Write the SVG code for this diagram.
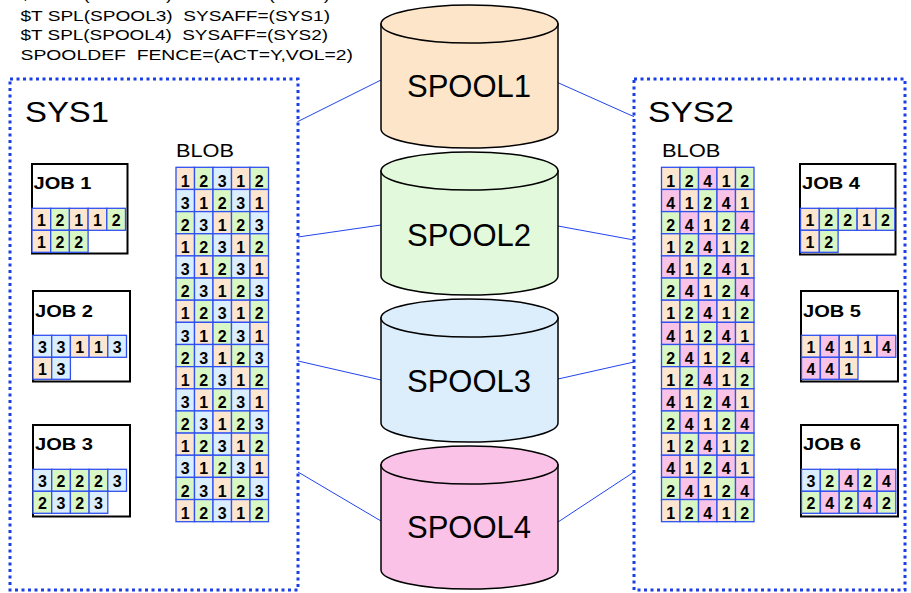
<svg xmlns="http://www.w3.org/2000/svg" xmlns:xlink="http://www.w3.org/1999/xlink" width="911" height="593" viewBox="0 0 911 593">
<style>
.hdr{font-family:"Liberation Sans",Arial,sans-serif;font-size:15px;fill:#000}
.sys{font-family:"Liberation Sans",Arial,sans-serif;font-size:30px;fill:#000}
.blob{font-family:"Liberation Sans",Arial,sans-serif;font-size:19px;fill:#000}
.spl{font-family:"Liberation Sans",Arial,sans-serif;font-size:31px;fill:#000;text-anchor:middle}
.jl{font-family:"Liberation Sans",Arial,sans-serif;font-size:16px;font-weight:bold;fill:#000}
.d{font-family:"Liberation Sans",Arial,sans-serif;font-size:16px;font-weight:bold;fill:#000;text-anchor:middle}
.box{fill:none;stroke:#1b3ee6;stroke-width:3;stroke-dasharray:3 3.5}
.job{fill:#fff;stroke:#000;stroke-width:2}
.cyl{stroke:#000;stroke-width:1.5}
.con{stroke:#2244ee;stroke-width:1;fill:none}
.c{stroke:#3050f0;stroke-width:1.3}
.f1{fill:#fde6cf}.f2{fill:#d9f7c4}.f3{fill:#dbeefd}.f4{fill:#f8c3e6}
</style>
<defs>
<rect id="b" width="18.5" height="22.15"/>
<rect id="j" width="18.7" height="22"/>
</defs>

<g id="header">
<text class="hdr" x="20" y="-0.5" xml:space="preserve" textLength="310" lengthAdjust="spacingAndGlyphs">$T SPL(SPOOL2)  SYSAFF=(SYS1)</text>
<text class="hdr" x="20.5" y="20.7" xml:space="preserve" textLength="309.5" lengthAdjust="spacingAndGlyphs">$T SPL(SPOOL3)  SYSAFF=(SYS1)</text>
<text class="hdr" x="20.5" y="40.2" xml:space="preserve" textLength="307.5" lengthAdjust="spacingAndGlyphs">$T SPL(SPOOL4)  SYSAFF=(SYS2)</text>
<text class="hdr" x="20.5" y="59.6" xml:space="preserve" textLength="332.5" lengthAdjust="spacingAndGlyphs">SPOOLDEF  FENCE=(ACT=Y,VOL=2)</text>
</g>

<g id="connectors">
<line class="con" x1="297.5" y1="121.7" x2="381" y2="80"/>
<line class="con" x1="558" y1="82.7" x2="634" y2="116.7"/>
<line class="con" x1="298" y1="237" x2="381" y2="225"/>
<line class="con" x1="558" y1="226" x2="634" y2="240"/>
<line class="con" x1="298" y1="361" x2="381" y2="380"/>
<line class="con" x1="558" y1="379" x2="634" y2="362"/>
<line class="con" x1="298" y1="472" x2="381" y2="521"/>
<line class="con" x1="558" y1="522" x2="634" y2="472"/>
</g>

<g id="sys1">
<rect class="box" x="10" y="79" width="288" height="511"/>
<text class="sys" x="25" y="122" textLength="84" lengthAdjust="spacingAndGlyphs">SYS1</text>
</g>
<g id="sys2">
<rect class="box" x="634" y="79" width="271" height="511"/>
<text class="sys" x="648" y="122" textLength="86" lengthAdjust="spacingAndGlyphs">SYS2</text>
</g>

<g id="spool1">
<path class="cyl" fill="#fce5c8" d="M381 24 V129 A88.5 19 0 0 0 558 129 V24 Z"/>
<ellipse class="cyl" fill="#fce5c8" cx="469.5" cy="24" rx="88.5" ry="19"/>
<text class="spl" x="469" y="96.7">SPOOL1</text>
</g>
<g id="spool2">
<path class="cyl" fill="#e2fadb" d="M381 171 V276 A88.5 19 0 0 0 558 276 V171 Z"/>
<ellipse class="cyl" fill="#e2fadb" cx="469.5" cy="171" rx="88.5" ry="19"/>
<text class="spl" x="469" y="246">SPOOL2</text>
</g>
<g id="spool3">
<path class="cyl" fill="#dcedfc" d="M381 318 V423 A88.5 19 0 0 0 558 423 V318 Z"/>
<ellipse class="cyl" fill="#dcedfc" cx="469.5" cy="318" rx="88.5" ry="19"/>
<text class="spl" x="469" y="392">SPOOL3</text>
</g>
<g id="spool4">
<path class="cyl" fill="#f9c2e6" d="M381 465 V570 A88.5 19 0 0 0 558 570 V465 Z"/>
<ellipse class="cyl" fill="#f9c2e6" cx="469.5" cy="465" rx="88.5" ry="19"/>
<text class="spl" x="469" y="538">SPOOL4</text>
</g>

<g id="blob1">
<text class="blob" x="176" y="156.7" textLength="58" lengthAdjust="spacingAndGlyphs">BLOB</text>
<g class="c">
<use href="#b" class="f1" x="176" y="167.3"/><use href="#b" class="f2" x="194.5" y="167.3"/><use href="#b" class="f3" x="213" y="167.3"/><use href="#b" class="f1" x="231.5" y="167.3"/><use href="#b" class="f2" x="250" y="167.3"/>
<use href="#b" class="f3" x="176" y="189.45"/><use href="#b" class="f1" x="194.5" y="189.45"/><use href="#b" class="f2" x="213" y="189.45"/><use href="#b" class="f3" x="231.5" y="189.45"/><use href="#b" class="f1" x="250" y="189.45"/>
<use href="#b" class="f2" x="176" y="211.6"/><use href="#b" class="f3" x="194.5" y="211.6"/><use href="#b" class="f1" x="213" y="211.6"/><use href="#b" class="f2" x="231.5" y="211.6"/><use href="#b" class="f3" x="250" y="211.6"/>
<use href="#b" class="f1" x="176" y="233.75"/><use href="#b" class="f2" x="194.5" y="233.75"/><use href="#b" class="f3" x="213" y="233.75"/><use href="#b" class="f1" x="231.5" y="233.75"/><use href="#b" class="f2" x="250" y="233.75"/>
<use href="#b" class="f3" x="176" y="255.9"/><use href="#b" class="f1" x="194.5" y="255.9"/><use href="#b" class="f2" x="213" y="255.9"/><use href="#b" class="f3" x="231.5" y="255.9"/><use href="#b" class="f1" x="250" y="255.9"/>
<use href="#b" class="f2" x="176" y="278.05"/><use href="#b" class="f3" x="194.5" y="278.05"/><use href="#b" class="f1" x="213" y="278.05"/><use href="#b" class="f2" x="231.5" y="278.05"/><use href="#b" class="f3" x="250" y="278.05"/>
<use href="#b" class="f1" x="176" y="300.2"/><use href="#b" class="f2" x="194.5" y="300.2"/><use href="#b" class="f3" x="213" y="300.2"/><use href="#b" class="f1" x="231.5" y="300.2"/><use href="#b" class="f2" x="250" y="300.2"/>
<use href="#b" class="f3" x="176" y="322.35"/><use href="#b" class="f1" x="194.5" y="322.35"/><use href="#b" class="f2" x="213" y="322.35"/><use href="#b" class="f3" x="231.5" y="322.35"/><use href="#b" class="f1" x="250" y="322.35"/>
<use href="#b" class="f2" x="176" y="344.5"/><use href="#b" class="f3" x="194.5" y="344.5"/><use href="#b" class="f1" x="213" y="344.5"/><use href="#b" class="f2" x="231.5" y="344.5"/><use href="#b" class="f3" x="250" y="344.5"/>
<use href="#b" class="f1" x="176" y="366.65"/><use href="#b" class="f2" x="194.5" y="366.65"/><use href="#b" class="f3" x="213" y="366.65"/><use href="#b" class="f1" x="231.5" y="366.65"/><use href="#b" class="f2" x="250" y="366.65"/>
<use href="#b" class="f3" x="176" y="388.8"/><use href="#b" class="f1" x="194.5" y="388.8"/><use href="#b" class="f2" x="213" y="388.8"/><use href="#b" class="f3" x="231.5" y="388.8"/><use href="#b" class="f1" x="250" y="388.8"/>
<use href="#b" class="f2" x="176" y="410.95"/><use href="#b" class="f3" x="194.5" y="410.95"/><use href="#b" class="f1" x="213" y="410.95"/><use href="#b" class="f2" x="231.5" y="410.95"/><use href="#b" class="f3" x="250" y="410.95"/>
<use href="#b" class="f1" x="176" y="433.1"/><use href="#b" class="f2" x="194.5" y="433.1"/><use href="#b" class="f3" x="213" y="433.1"/><use href="#b" class="f1" x="231.5" y="433.1"/><use href="#b" class="f2" x="250" y="433.1"/>
<use href="#b" class="f3" x="176" y="455.25"/><use href="#b" class="f1" x="194.5" y="455.25"/><use href="#b" class="f2" x="213" y="455.25"/><use href="#b" class="f3" x="231.5" y="455.25"/><use href="#b" class="f1" x="250" y="455.25"/>
<use href="#b" class="f2" x="176" y="477.4"/><use href="#b" class="f3" x="194.5" y="477.4"/><use href="#b" class="f1" x="213" y="477.4"/><use href="#b" class="f2" x="231.5" y="477.4"/><use href="#b" class="f3" x="250" y="477.4"/>
<use href="#b" class="f1" x="176" y="499.55"/><use href="#b" class="f2" x="194.5" y="499.55"/><use href="#b" class="f3" x="213" y="499.55"/><use href="#b" class="f1" x="231.5" y="499.55"/><use href="#b" class="f2" x="250" y="499.55"/>
</g>
<text class="d" x="185.25 203.75 222.25 240.75 259.25" y="186.5">12312</text>
<text class="d" x="185.25 203.75 222.25 240.75 259.25" y="208.65">31231</text>
<text class="d" x="185.25 203.75 222.25 240.75 259.25" y="230.8">23123</text>
<text class="d" x="185.25 203.75 222.25 240.75 259.25" y="252.95">12312</text>
<text class="d" x="185.25 203.75 222.25 240.75 259.25" y="275.1">31231</text>
<text class="d" x="185.25 203.75 222.25 240.75 259.25" y="297.25">23123</text>
<text class="d" x="185.25 203.75 222.25 240.75 259.25" y="319.4">12312</text>
<text class="d" x="185.25 203.75 222.25 240.75 259.25" y="341.55">31231</text>
<text class="d" x="185.25 203.75 222.25 240.75 259.25" y="363.7">23123</text>
<text class="d" x="185.25 203.75 222.25 240.75 259.25" y="385.85">12312</text>
<text class="d" x="185.25 203.75 222.25 240.75 259.25" y="408">31231</text>
<text class="d" x="185.25 203.75 222.25 240.75 259.25" y="430.15">23123</text>
<text class="d" x="185.25 203.75 222.25 240.75 259.25" y="452.3">12312</text>
<text class="d" x="185.25 203.75 222.25 240.75 259.25" y="474.45">31231</text>
<text class="d" x="185.25 203.75 222.25 240.75 259.25" y="496.6">23123</text>
<text class="d" x="185.25 203.75 222.25 240.75 259.25" y="518.75">12312</text>
</g>

<g id="blob2">
<text class="blob" x="662" y="156.7" textLength="58.5" lengthAdjust="spacingAndGlyphs">BLOB</text>
<g class="c">
<use href="#b" class="f1" x="661.5" y="167.3"/><use href="#b" class="f2" x="680" y="167.3"/><use href="#b" class="f4" x="698.5" y="167.3"/><use href="#b" class="f1" x="717" y="167.3"/><use href="#b" class="f2" x="735.5" y="167.3"/>
<use href="#b" class="f4" x="661.5" y="189.45"/><use href="#b" class="f1" x="680" y="189.45"/><use href="#b" class="f2" x="698.5" y="189.45"/><use href="#b" class="f4" x="717" y="189.45"/><use href="#b" class="f1" x="735.5" y="189.45"/>
<use href="#b" class="f2" x="661.5" y="211.6"/><use href="#b" class="f4" x="680" y="211.6"/><use href="#b" class="f1" x="698.5" y="211.6"/><use href="#b" class="f2" x="717" y="211.6"/><use href="#b" class="f4" x="735.5" y="211.6"/>
<use href="#b" class="f1" x="661.5" y="233.75"/><use href="#b" class="f2" x="680" y="233.75"/><use href="#b" class="f4" x="698.5" y="233.75"/><use href="#b" class="f1" x="717" y="233.75"/><use href="#b" class="f2" x="735.5" y="233.75"/>
<use href="#b" class="f4" x="661.5" y="255.9"/><use href="#b" class="f1" x="680" y="255.9"/><use href="#b" class="f2" x="698.5" y="255.9"/><use href="#b" class="f4" x="717" y="255.9"/><use href="#b" class="f1" x="735.5" y="255.9"/>
<use href="#b" class="f2" x="661.5" y="278.05"/><use href="#b" class="f4" x="680" y="278.05"/><use href="#b" class="f1" x="698.5" y="278.05"/><use href="#b" class="f2" x="717" y="278.05"/><use href="#b" class="f4" x="735.5" y="278.05"/>
<use href="#b" class="f1" x="661.5" y="300.2"/><use href="#b" class="f2" x="680" y="300.2"/><use href="#b" class="f4" x="698.5" y="300.2"/><use href="#b" class="f1" x="717" y="300.2"/><use href="#b" class="f2" x="735.5" y="300.2"/>
<use href="#b" class="f4" x="661.5" y="322.35"/><use href="#b" class="f1" x="680" y="322.35"/><use href="#b" class="f2" x="698.5" y="322.35"/><use href="#b" class="f4" x="717" y="322.35"/><use href="#b" class="f1" x="735.5" y="322.35"/>
<use href="#b" class="f2" x="661.5" y="344.5"/><use href="#b" class="f4" x="680" y="344.5"/><use href="#b" class="f1" x="698.5" y="344.5"/><use href="#b" class="f2" x="717" y="344.5"/><use href="#b" class="f4" x="735.5" y="344.5"/>
<use href="#b" class="f1" x="661.5" y="366.65"/><use href="#b" class="f2" x="680" y="366.65"/><use href="#b" class="f4" x="698.5" y="366.65"/><use href="#b" class="f1" x="717" y="366.65"/><use href="#b" class="f2" x="735.5" y="366.65"/>
<use href="#b" class="f4" x="661.5" y="388.8"/><use href="#b" class="f1" x="680" y="388.8"/><use href="#b" class="f2" x="698.5" y="388.8"/><use href="#b" class="f4" x="717" y="388.8"/><use href="#b" class="f1" x="735.5" y="388.8"/>
<use href="#b" class="f2" x="661.5" y="410.95"/><use href="#b" class="f4" x="680" y="410.95"/><use href="#b" class="f1" x="698.5" y="410.95"/><use href="#b" class="f2" x="717" y="410.95"/><use href="#b" class="f4" x="735.5" y="410.95"/>
<use href="#b" class="f1" x="661.5" y="433.1"/><use href="#b" class="f2" x="680" y="433.1"/><use href="#b" class="f4" x="698.5" y="433.1"/><use href="#b" class="f1" x="717" y="433.1"/><use href="#b" class="f2" x="735.5" y="433.1"/>
<use href="#b" class="f4" x="661.5" y="455.25"/><use href="#b" class="f1" x="680" y="455.25"/><use href="#b" class="f2" x="698.5" y="455.25"/><use href="#b" class="f4" x="717" y="455.25"/><use href="#b" class="f1" x="735.5" y="455.25"/>
<use href="#b" class="f2" x="661.5" y="477.4"/><use href="#b" class="f4" x="680" y="477.4"/><use href="#b" class="f1" x="698.5" y="477.4"/><use href="#b" class="f2" x="717" y="477.4"/><use href="#b" class="f4" x="735.5" y="477.4"/>
<use href="#b" class="f1" x="661.5" y="499.55"/><use href="#b" class="f2" x="680" y="499.55"/><use href="#b" class="f4" x="698.5" y="499.55"/><use href="#b" class="f1" x="717" y="499.55"/><use href="#b" class="f2" x="735.5" y="499.55"/>
</g>
<text class="d" x="670.75 689.25 707.75 726.25 744.75" y="186.5">12412</text>
<text class="d" x="670.75 689.25 707.75 726.25 744.75" y="208.65">41241</text>
<text class="d" x="670.75 689.25 707.75 726.25 744.75" y="230.8">24124</text>
<text class="d" x="670.75 689.25 707.75 726.25 744.75" y="252.95">12412</text>
<text class="d" x="670.75 689.25 707.75 726.25 744.75" y="275.1">41241</text>
<text class="d" x="670.75 689.25 707.75 726.25 744.75" y="297.25">24124</text>
<text class="d" x="670.75 689.25 707.75 726.25 744.75" y="319.4">12412</text>
<text class="d" x="670.75 689.25 707.75 726.25 744.75" y="341.55">41241</text>
<text class="d" x="670.75 689.25 707.75 726.25 744.75" y="363.7">24124</text>
<text class="d" x="670.75 689.25 707.75 726.25 744.75" y="385.85">12412</text>
<text class="d" x="670.75 689.25 707.75 726.25 744.75" y="408">41241</text>
<text class="d" x="670.75 689.25 707.75 726.25 744.75" y="430.15">24124</text>
<text class="d" x="670.75 689.25 707.75 726.25 744.75" y="452.3">12412</text>
<text class="d" x="670.75 689.25 707.75 726.25 744.75" y="474.45">41241</text>
<text class="d" x="670.75 689.25 707.75 726.25 744.75" y="496.6">24124</text>
<text class="d" x="670.75 689.25 707.75 726.25 744.75" y="518.75">12412</text>
</g>

<g id="job1">
<rect class="job" x="32" y="164" width="95.5" height="89.5"/>
<text class="jl" x="33.5" y="189.3" textLength="58" lengthAdjust="spacingAndGlyphs">JOB 1</text>
<g class="c">
<use href="#j" class="f1" x="32" y="208.3"/><use href="#j" class="f2" x="50.7" y="208.3"/><use href="#j" class="f1" x="69.4" y="208.3"/><use href="#j" class="f1" x="88.1" y="208.3"/><use href="#j" class="f2" x="106.8" y="208.3"/>
<use href="#j" class="f1" x="32" y="230.3"/><use href="#j" class="f2" x="50.7" y="230.3"/><use href="#j" class="f2" x="69.4" y="230.3"/>
</g>
<text class="d" x="41.35 60.05 78.75 97.45 116.15" y="225.8">12112</text>
<text class="d" x="41.35 60.05 78.75" y="247.8">122</text>
</g>

<g id="job2">
<rect class="job" x="33" y="291" width="97" height="90.5"/>
<text class="jl" x="35" y="316.7" textLength="58" lengthAdjust="spacingAndGlyphs">JOB 2</text>
<g class="c">
<use href="#j" class="f3" x="33" y="335.3"/><use href="#j" class="f3" x="51.7" y="335.3"/><use href="#j" class="f1" x="70.4" y="335.3"/><use href="#j" class="f1" x="89.1" y="335.3"/><use href="#j" class="f3" x="107.8" y="335.3"/>
<use href="#j" class="f1" x="33" y="357.3"/><use href="#j" class="f3" x="51.7" y="357.3"/>
</g>
<text class="d" x="42.35 61.05 79.75 98.45 117.15" y="352.8">33113</text>
<text class="d" x="42.35 61.05" y="374.8">13</text>
</g>

<g id="job3">
<rect class="job" x="33" y="425" width="97" height="91.5"/>
<text class="jl" x="35" y="450.3" textLength="58" lengthAdjust="spacingAndGlyphs">JOB 3</text>
<g class="c">
<use href="#j" class="f3" x="33" y="469.3"/><use href="#j" class="f2" x="51.7" y="469.3"/><use href="#j" class="f2" x="70.4" y="469.3"/><use href="#j" class="f2" x="89.1" y="469.3"/><use href="#j" class="f3" x="107.8" y="469.3"/>
<use href="#j" class="f2" x="33" y="491.3"/><use href="#j" class="f3" x="51.7" y="491.3"/><use href="#j" class="f2" x="70.4" y="491.3"/><use href="#j" class="f3" x="89.1" y="491.3"/>
</g>
<text class="d" x="42.35 61.05 79.75 98.45 117.15" y="486.8">32223</text>
<text class="d" x="42.35 61.05 79.75 98.45" y="508.8">2323</text>
</g>

<g id="job4">
<rect class="job" x="800" y="164" width="95.5" height="90.5"/>
<text class="jl" x="802" y="189.3" textLength="58" lengthAdjust="spacingAndGlyphs">JOB 4</text>
<g class="c">
<use href="#j" class="f1" x="800.5" y="208.3"/><use href="#j" class="f2" x="819.4" y="208.3"/><use href="#j" class="f2" x="838.3" y="208.3"/><use href="#j" class="f1" x="857.2" y="208.3"/><use href="#j" class="f2" x="876.1" y="208.3"/>
<use href="#j" class="f1" x="800.5" y="230.3"/><use href="#j" class="f2" x="819.4" y="230.3"/>
</g>
<text class="d" x="809.85 828.75 847.65 866.55 885.45" y="225.8">12212</text>
<text class="d" x="809.85 828.75" y="247.8">12</text>
</g>

<g id="job5">
<rect class="job" x="801" y="291" width="97" height="90.5"/>
<text class="jl" x="803" y="316.7" textLength="58" lengthAdjust="spacingAndGlyphs">JOB 5</text>
<g class="c">
<use href="#j" class="f1" x="801.5" y="335.3"/><use href="#j" class="f4" x="820.4" y="335.3"/><use href="#j" class="f1" x="839.3" y="335.3"/><use href="#j" class="f1" x="858.2" y="335.3"/><use href="#j" class="f4" x="877.1" y="335.3"/>
<use href="#j" class="f4" x="801.5" y="357.3"/><use href="#j" class="f4" x="820.4" y="357.3"/><use href="#j" class="f1" x="839.3" y="357.3"/>
</g>
<text class="d" x="810.85 829.75 848.65 867.55 886.45" y="352.8">14114</text>
<text class="d" x="810.85 829.75 848.65" y="374.8">441</text>
</g>

<g id="job6">
<rect class="job" x="801" y="425" width="97" height="91.5"/>
<text class="jl" x="803" y="450.3" textLength="58" lengthAdjust="spacingAndGlyphs">JOB 6</text>
<g class="c">
<use href="#j" class="f3" x="801.5" y="469.3"/><use href="#j" class="f2" x="820.4" y="469.3"/><use href="#j" class="f4" x="839.3" y="469.3"/><use href="#j" class="f2" x="858.2" y="469.3"/><use href="#j" class="f4" x="877.1" y="469.3"/>
<use href="#j" class="f2" x="801.5" y="491.3"/><use href="#j" class="f4" x="820.4" y="491.3"/><use href="#j" class="f2" x="839.3" y="491.3"/><use href="#j" class="f4" x="858.2" y="491.3"/><use href="#j" class="f2" x="877.1" y="491.3"/>
</g>
<text class="d" x="810.85 829.75 848.65 867.55 886.45" y="486.8">32424</text>
<text class="d" x="810.85 829.75 848.65 867.55 886.45" y="508.8">24242</text>
</g>
</svg>
